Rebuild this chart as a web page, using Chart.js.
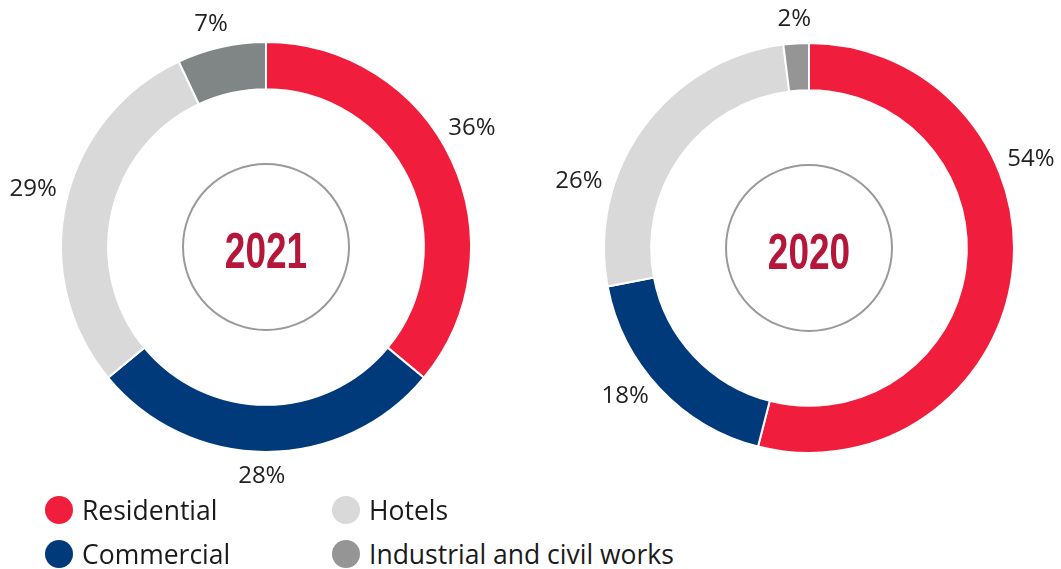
<!DOCTYPE html>
<html lang="en">
<head>
<meta charset="UTF-8">
<title>Revenue by segment</title>
<script src="https://cdn.jsdelivr.net/npm/chart.js"></script>
<style>
  body { margin: 0; background: #fff; }
  .wrap { position: relative; width: 1061px; height: 569px; overflow: hidden; font-family: "Open Sans", "Noto Sans", sans-serif; }
  .box { position: absolute; top: 0; height: 494px; }
  #box1 { left: 0; width: 530px; }
  #box2 { left: 530px; width: 531px; }
  .legend { position: absolute; left: 45px; top: 490px; width: 700px; }
  .item { position: absolute; display: flex; align-items: center; font-size: 26.5px; color: #1a1a1a; white-space: nowrap; }
  .dot { width: 28px; height: 28px; border-radius: 50%; margin-right: 9px; }
</style>
</head>
<body>
<div class="wrap">
  <div class="box" id="box1"><canvas id="chart2021"></canvas></div>
  <div class="box" id="box2"><canvas id="chart2020"></canvas></div>
  <div class="legend" id="legend"></div>
</div>

<script>
// data
const categories = ['Residential', 'Commercial', 'Hotels', 'Industrial and civil works'];
const years = ['2021', '2020'];
const values2021 = [36, 28, 29, 7];
const values2020 = [54, 18, 26, 2];

const colors2021 = ['#F01E3C', '#003A7A', '#D9D9D9', '#7F8685'];
const colors2020 = ['#F01E3C', '#003A7A', '#D9D9D9', '#959595'];
const legendColors = ['#F01E3C', '#003A7A', '#D9D9D9', '#959595'];

// small angle shifts (degrees) for the outside labels, like the original placement
const shift2021 = [-6, 1, 2, -1];
const shift2020 = [-30, 3, -19, 0];

// center circle + year + outside % labels
const decor = {
  id: 'decor',
  afterDraw(chart, args, opts) {
    const c = chart.ctx;
    const arc = chart.getDatasetMeta(0).data[0];
    const cx = arc.x, cy = arc.y, R = arc.outerRadius;

    c.save();
    c.beginPath();
    c.arc(cx, cy, 83, 0, Math.PI * 2);
    c.strokeStyle = '#9a9a9a';
    c.lineWidth = 2;
    c.stroke();

    // condensed bold year: squeeze a normal bold face horizontally
    c.save();
    c.translate(cx, cy + 21);
    c.scale(0.74, 1);
    c.fillStyle = '#B5173A';
    c.font = 'bold 50px "Liberation Sans", Arial, sans-serif';
    c.textAlign = 'center';
    c.textBaseline = 'alphabetic';
    c.fillText(opts.year, 0, 0);
    c.restore();

    c.font = '24px "Open Sans", "Noto Sans", sans-serif';
    c.fillStyle = '#222';
    c.textAlign = 'center';
    c.textBaseline = 'middle';
    chart.getDatasetMeta(0).data.forEach((a, i) => {
      const mid = (a.startAngle + a.endAngle) / 2 + opts.shift[i] * Math.PI / 180;
      const txt = chart.data.datasets[0].data[i] + '%';
      const w = c.measureText(txt).width;
      const px = cx + Math.cos(mid) * (R + 10);
      const py = cy + Math.sin(mid) * (R + 10);
      const x = px + Math.cos(mid) * (w / 2 + 2);
      const y = py + Math.sin(mid) * 14;
      c.fillText(txt, x, y);
    });
    c.restore();
  }
};

function makeChart(id, values, colors, year, shift, pad) {
  return new Chart(document.getElementById(id), {
    type: 'doughnut',
    data: {
      labels: categories,
      datasets: [{
        data: values,
        backgroundColor: colors,
        borderColor: '#fff',
        borderWidth: 2
      }]
    },
    options: {
      responsive: true,
      maintainAspectRatio: false,
      animation: false,
      cutout: '77%',
      layout: { padding: pad },
      plugins: {
        legend: { display: false },
        tooltip: { enabled: false },
        decor: { year: year, shift: shift }
      }
    },
    plugins: [decor]
  });
}

makeChart('chart2021', values2021, colors2021, years[0], shift2021, { left: 60, right: 58, top: 41, bottom: 41 });
makeChart('chart2020', values2020, colors2020, years[1], shift2020, { left: 73, right: 46, top: 42, bottom: 40 });

// legend, two columns
const legend = document.getElementById('legend');
const spots = [[0, 2], [0, 46], [287, 2], [287, 46]];
categories.forEach((name, i) => {
  const el = document.createElement('div');
  el.className = 'item';
  el.style.left = spots[i][0] + 'px';
  el.style.top = spots[i][1] + 'px';
  el.innerHTML = '<span class="dot" style="background:' + legendColors[i] + '"></span>' + name;
  legend.appendChild(el);
});
</script>
</body>
</html>
